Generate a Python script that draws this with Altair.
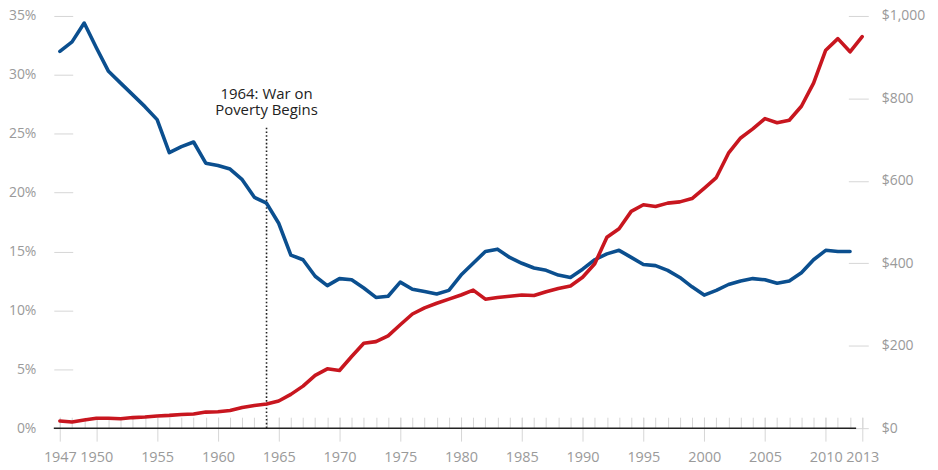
import altair as alt
import pandas as pd

# ---- data ----
years = list(range(1947, 2014))
poverty_years = list(range(1947, 2013))
poverty_rate = [32.0, 32.8, 34.4, 32.3, 30.3, 29.3, 28.3, 27.3, 26.2, 23.4,
                23.9, 24.3, 22.5, 22.3, 22.0, 21.1, 19.6, 19.1, 17.4, 14.7,
                14.3, 12.9, 12.1, 12.7, 12.6, 11.9, 11.1, 11.2, 12.4, 11.8,
                11.6, 11.4, 11.7, 13.0, 14.0, 15.0, 15.2, 14.5, 14.0, 13.6,
                13.4, 13.0, 12.8, 13.5, 14.3, 14.8, 15.1, 14.5, 13.9, 13.8,
                13.4, 12.8, 12.0, 11.3, 11.7, 12.2, 12.5, 12.7, 12.6, 12.3,
                12.5, 13.2, 14.3, 15.1, 15.0, 15.0]
spending = [17.6, 15, 20, 24, 24, 23, 25.7, 27, 29.7, 31,
            33, 34.5, 39, 40, 43, 50, 55, 58.6, 66, 82,
            102, 128, 144, 140, 174, 206, 210, 224, 251, 277,
            292, 303, 313, 323, 335, 313, 317, 320, 323, 322,
            331, 339, 345, 366, 399, 463, 484, 526, 542, 538,
            546, 549, 557, 582, 608, 667, 704, 726, 751, 741,
            747, 781, 837, 917, 945, 913, 950]
label_years = [1947, 1950, 1955, 1960, 1965, 1970, 1975, 1980, 1985,
               1990, 1995, 2000, 2005, 2010, 2013]
pct_ticks = [0, 5, 10, 15, 20, 25, 30, 35]
dollar_ticks = [0, 200, 400, 600, 800, 1000]
x_domain = [1946.5, 2013.5]
baseline_span = [1946.5, 2012.5]
event_year = 1964
event_lines = ["1964: War on", "Poverty Begins"]
event_line_y = [28.4, 27.0]
event_rule_top = 25.6

FONT = "Open Sans"
BLUE = "#0b4f8f"
RED = "#c8161f"
TICK = "#d6d6d6"
LABEL = "#9a9a9a"

df_pov = pd.DataFrame({"year": poverty_years, "rate": poverty_rate})
df_sp = pd.DataFrame({"year": years, "spending": spending})
df_base = pd.DataFrame({"year": [baseline_span[0]], "x1": [baseline_span[1]], "rate": [0]})
df_event = pd.DataFrame({"year": [event_year], "top": [event_rule_top], "rate": [0]})
df_event_text = pd.DataFrame({"year": [event_year] * len(event_lines),
                              "label": event_lines, "ly": event_line_y})

x_scale = alt.Scale(domain=x_domain, nice=False, zero=False)
pct_scale = alt.Scale(domain=[0, 35], nice=False, zero=True)
usd_scale = alt.Scale(domain=[0, 1000], nice=False, zero=True)

major_x_axis = alt.Axis(values=label_years, format="d", orient="bottom", offset=-11,
                        tickSize=24, tickColor=TICK, tickWidth=1, domain=False, grid=False,
                        labelFont=FONT, labelFontSize=14.5, labelColor=LABEL, labelPadding=9,
                        labelFlush=False, labelOverlap=False, title=None)
minor_x_axis = alt.Axis(values=years, orient="bottom", offset=-11, tickSize=11,
                        tickColor=TICK, tickWidth=1, labels=False, domain=False,
                        grid=False, title=None)
left_axis = alt.Axis(orient="left", values=pct_ticks, labelExpr="datum.value + '%'",
                     offset=-19, tickSize=19, tickColor=TICK, tickWidth=1, domain=False,
                     grid=False, labelPadding=18, labelFont=FONT, labelFontSize=14,
                     labelColor=LABEL, title=None)
right_axis = alt.Axis(orient="right", values=dollar_ticks,
                      labelExpr="'$' + format(datum.value, ',')",
                      offset=-20, tickSize=20, tickColor=TICK, tickWidth=1, domain=False,
                      grid=False, labelPadding=13, labelFont=FONT, labelFontSize=14,
                      labelColor=LABEL, title=None)

X = alt.X("year:Q", scale=x_scale, axis=major_x_axis, title=None)

blue = alt.Chart(df_pov).mark_line(color=BLUE, strokeWidth=3.6, strokeJoin="round",
                                   strokeCap="round").encode(
    x=X,
    y=alt.Y("rate:Q", scale=pct_scale, axis=left_axis, title=None),
)

baseline = alt.Chart(df_base).mark_rule(color="#222222", strokeWidth=1.6).encode(
    x=X,
    x2="x1:Q",
    y=alt.Y("rate:Q", scale=pct_scale, axis=left_axis, title=None),
)

event_rule = alt.Chart(df_event).mark_rule(color="#222222", strokeWidth=1.6,
                                            strokeDash=[1.6, 2.2]).encode(
    x=X,
    y=alt.Y("rate:Q", scale=pct_scale, axis=left_axis, title=None),
    y2="top:Q",
)

event_label = alt.Chart(df_event_text).mark_text(font=FONT, fontSize=15, color="#222222",
                                                  align="center").encode(
    x=X,
    y=alt.Y("ly:Q", scale=pct_scale, axis=left_axis, title=None),
    text="label:N",
)

left_group = alt.layer(event_rule, blue, baseline, event_label)

red = alt.Chart(df_sp).mark_line(color=RED, strokeWidth=3.6, strokeJoin="round",
                                 strokeCap="round").encode(
    x=alt.X("year:Q", scale=x_scale, axis=minor_x_axis, title=None),
    y=alt.Y("spending:Q", scale=usd_scale, axis=right_axis, title=None),
)

chart = alt.layer(left_group, red).resolve_scale(
    y="independent"
).resolve_axis(
    x="independent", y="independent"
).properties(
    width=818,
    height=414,
    autosize=alt.AutoSizeParams(type="none"),
    padding={"left": 46, "top": 7, "right": 62, "bottom": 41},
).configure_view(stroke=None)

chart.save("out.html", embed_options={"renderer": "svg", "actions": False})
